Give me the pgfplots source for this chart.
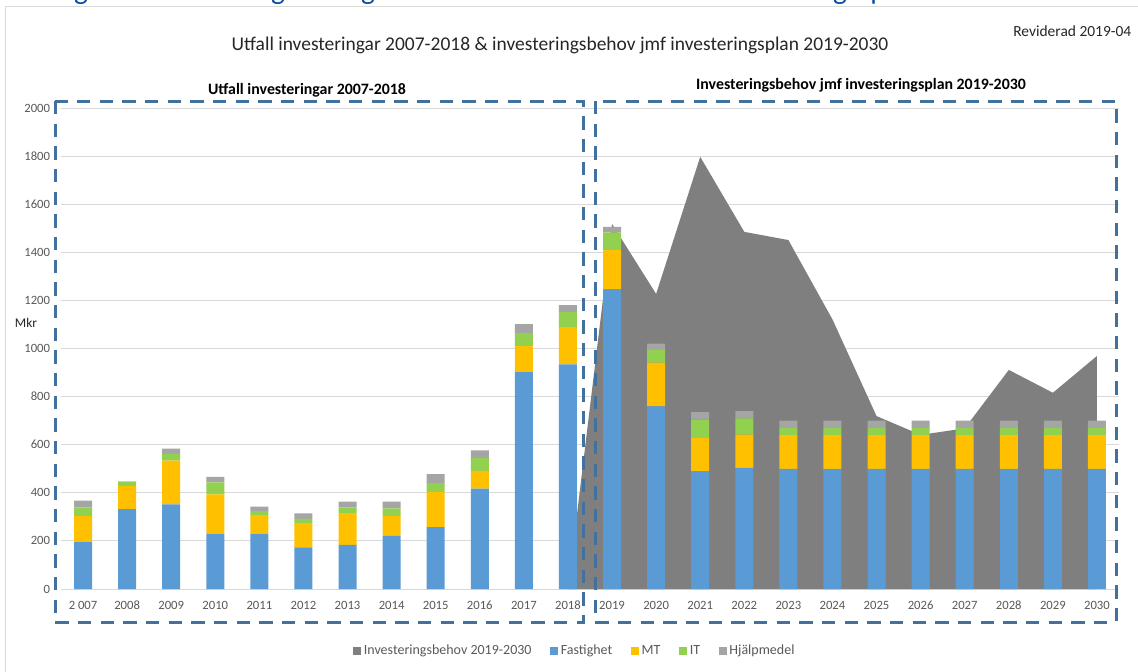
\documentclass[border=0pt]{standalone}
\usepackage{fontspec}
\setmainfont{Carlito}
\usepackage{pgfplots}
\usepackage{pgfplotstable}
\pgfplotsset{compat=1.18}

\definecolor{fast}{HTML}{5B9BD5}
\definecolor{mt}{HTML}{FFC000}
\definecolor{itc}{HTML}{92D050}
\definecolor{hjm}{HTML}{A5A5A5}
\definecolor{beh}{HTML}{7F7F7F}
\definecolor{boxc}{HTML}{41719C}
\definecolor{ticklab}{HTML}{595959}
\definecolor{gridc}{HTML}{D9D9D9}
\definecolor{headblue}{HTML}{0B4EA2}
\definecolor{titlec}{HTML}{262626}

\pgfplotstableread{
x F MT IT Hj
0 195 109 35 29
1 332 96 18 2
2 352 182 28 22
3 230 164 49 23
4 230 77 17 19
5 173 101 18 22
6 184 132 23 24
7 221 83 31 28
8 257 147 36 38
9 417 74 53 32
10 904 107 53 37
11 934 155 62 29
12 1246 163 74 23
13 759 182 53 26
14 489 139 76 31
15 504 138 68 30
16 500 140 30 30
17 500 140 30 30
18 500 140 30 30
19 500 140 30 30
20 500 140 30 30
21 500 140 30 30
22 500 140 30 30
23 500 140 30 30
}\bars

\pgfplotstableread{
x B
11 0
12 1518
13 1227
14 1797
15 1485
16 1451
17 1121
18 719
19 641
20 668
21 911
22 816
23 969
}\behov

\begin{document}
\begin{tikzpicture}
\path[use as bounding box] (0,0) rectangle (853.5pt,-503.25pt);

% clipped heading fragments and chart border
\begin{scope}[x=0.75pt,y=-0.75pt]
\clip (0,0) rectangle (1138,671);
\foreach \xx/\ch in {81/g,278/g,368/g,840/g,878/p}{
  \node[anchor=base, inner sep=0pt, text=headblue, font=\fontsize{22}{26}\selectfont] at (\xx,-1) {\ch};
}
\draw[gridc, line width=0.75pt] (5,720) -- (5,6) -- (1200,6);
\end{scope}

\begin{axis}[
  at={(45.75pt,-441.75pt)}, anchor=south west,
  scale only axis, width=793.5pt, height=360.75pt,
  xmin=-0.5, xmax=23.5, ymin=0, ymax=2000,
  ytick={0,200,...,2000},
  xtick={0,...,23},
  xticklabels={2 007,2008,2009,2010,2011,2012,2013,2014,2015,2016,2017,2018,2019,2020,2021,2022,2023,2024,2025,2026,2027,2028,2029,2030},
  /pgf/number format/assume math mode=true,
  /pgf/number format/1000 sep={},
  ymajorgrids, grid style={gridc, line width=0.75pt},
  axis x line*=bottom, axis y line*=left,
  x axis line style={gridc, line width=0.75pt, -},
  y axis line style={draw=none},
  major tick length=0pt,
  tick label style={font=\fontsize{9.5}{11}\selectfont, text=ticklab},
  yticklabel style={anchor=east, inner sep=0pt, xshift=-8pt},
  xticklabel style={anchor=north, inner sep=0pt, yshift=-9pt},
  clip=false,
]
\addplot[fill=beh, draw=none] table[x=x,y=B]{\behov} \closedcycle;
\end{axis}

\begin{axis}[
  at={(45.75pt,-441.75pt)}, anchor=south west,
  scale only axis, width=793.5pt, height=360.75pt,
  xmin=-0.5, xmax=23.5, ymin=0, ymax=2000,
  hide axis,
  ybar stacked, bar width=13.5pt,
  legend style={at={(axis description cs:0.486,-0.129)}, anchor=center,
    draw=none, fill=none, legend columns=-1,
    font=\fontsize{10.5}{12}\selectfont, text=ticklab,
    /tikz/every even column/.append style={column sep=12pt}},
  legend image code/.code={\fill[#1] (0pt,-3pt) rectangle (6pt,3pt);},
]
\addlegendimage{fill=beh, draw=none}
\addlegendentry{Investeringsbehov 2019-2030}
\addplot[fill=fast, draw=none] table[x=x,y=F]{\bars};
\addlegendentry{Fastighet}
\addplot[fill=mt, draw=none] table[x=x,y=MT]{\bars};
\addlegendentry{MT}
\addplot[fill=itc, draw=none] table[x=x,y=IT]{\bars};
\addlegendentry{IT}
\addplot[fill=hjm, draw=none] table[x=x,y=Hj]{\bars};
\addlegendentry{Hjälpmedel}
\end{axis}

\begin{scope}[x=0.75pt,y=-0.75pt]
\node[text=titlec, font=\fontsize{14.6}{17}\selectfont] at (560,45) {Utfall investeringar 2007-2018 \& investeringsbehov jmf investeringsplan 2019-2030};
\node[anchor=east, text=titlec, font=\fontsize{11.6}{13}\selectfont] at (1136,31) {Reviderad 2019-04};
\node[text=black, font=\bfseries\fontsize{11.9}{14}\selectfont] at (307,90) {Utfall investeringar 2007-2018};
\node[text=black, font=\bfseries\fontsize{11.9}{14}\selectfont] at (861,85) {Investeringsbehov jmf investeringsplan 2019-2030};
\node[text=titlec, font=\fontsize{10}{12}\selectfont] at (26,323) {Mkr};
\draw[boxc, line width=2.25pt, dash pattern=on 10pt off 7pt] (55,101) rectangle (583,622);
\draw[boxc, line width=2.25pt, dash pattern=on 10pt off 7pt] (595,101) rectangle (1116,622);
\end{scope}
\end{tikzpicture}
\end{document}
